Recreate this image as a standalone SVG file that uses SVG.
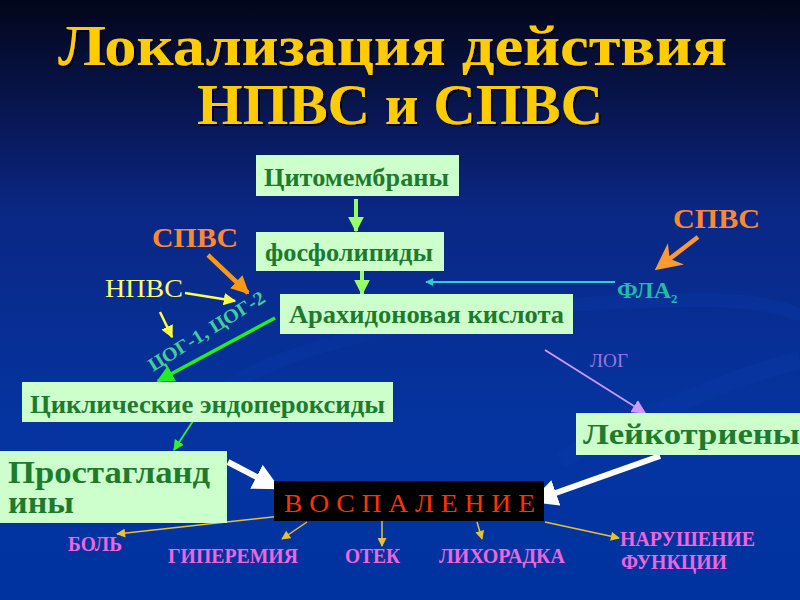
<svg xmlns="http://www.w3.org/2000/svg" width="800" height="600" viewBox="0 0 800 600">
<defs>
<linearGradient id="bg" x1="0" y1="0" x2="0" y2="1">
<stop offset="0" stop-color="#02061a"/>
<stop offset="0.18" stop-color="#081650"/>
<stop offset="0.35" stop-color="#0a2784"/>
<stop offset="0.7" stop-color="#0534a0"/>
<stop offset="1" stop-color="#0033a0"/>
</linearGradient>
<filter id="sh" x="-5%" y="-5%" width="110%" height="120%">
<feDropShadow dx="2" dy="2" stdDeviation="0.6" flood-color="#000" flood-opacity="0.9"/>
</filter>
<marker id="mLg" viewBox="0 0 10 10" refX="9" refY="5" markerWidth="4" markerHeight="4" orient="auto" markerUnits="strokeWidth"><path d="M0,0L10,5L0,10z" fill="#99ff66"/></marker>
<marker id="mG" viewBox="0 0 10 10" refX="9" refY="5" markerWidth="5" markerHeight="5" orient="auto" markerUnits="strokeWidth"><path d="M0,0L10,5L0,10z" fill="#22ee22"/></marker>
<marker id="mG2" viewBox="0 0 10 10" refX="9" refY="5" markerWidth="6" markerHeight="6" orient="auto" markerUnits="strokeWidth"><path d="M0,0L10,5L0,10z" fill="#33ee33"/></marker>
<marker id="mC" viewBox="0 0 10 10" refX="9" refY="5" markerWidth="5" markerHeight="4" orient="auto" markerUnits="strokeWidth"><path d="M0,0L10,5L0,10z" fill="#33cccc"/></marker>
<marker id="mO" viewBox="0 0 10 10" refX="9" refY="5" markerWidth="4" markerHeight="4" orient="auto" markerUnits="strokeWidth"><path d="M0,0L10,5L0,10z" fill="#ff9911"/></marker>
<marker id="mO2" viewBox="0 0 10 10" refX="8" refY="5" markerWidth="6" markerHeight="6" orient="auto" markerUnits="strokeWidth"><path d="M0,0L10,5L0,10L3,5z" fill="#ff9933"/></marker>
<marker id="mY" viewBox="0 0 10 10" refX="9" refY="5" markerWidth="5" markerHeight="5" orient="auto" markerUnits="strokeWidth"><path d="M0,0L10,5L0,10z" fill="#ffff44"/></marker>
<marker id="mV" viewBox="0 0 10 10" refX="9" refY="5" markerWidth="8" markerHeight="8" orient="auto" markerUnits="strokeWidth"><path d="M0,0L10,5L0,10z" fill="#cc99ff"/></marker>
<marker id="mGd" viewBox="0 0 10 10" refX="9" refY="5" markerWidth="7" markerHeight="6" orient="auto" markerUnits="strokeWidth"><path d="M0,0L10,5L0,10z" fill="#e8c030"/></marker>
<marker id="mW" viewBox="0 0 10 10" refX="9" refY="5" markerWidth="4.5" markerHeight="4.5" orient="auto" markerUnits="strokeWidth"><path d="M0,0L10,5L0,10z" fill="#ffffff"/></marker>
</defs>
<style>
text{font-family:"Liberation Serif","Times New Roman",serif;font-weight:bold}
.box{fill:#ccffcc}
.bt{fill:#1e7b2e;font-size:26px}
.title{fill:#ffcc00;font-size:57px;font-weight:bold}
.org{fill:#ff8833;font-size:28px}
.mag{fill:#ee66dd;font-size:20px}
.ln{fill:none}
</style>
<rect width="800" height="600" fill="url(#bg)"/>
<path d="M190,420 C260,330 520,300 700,300 C760,300 800,310 800,320" fill="none" stroke="#0a3aa8" stroke-width="14" opacity="0.35"/>
<path d="M560,460 C640,420 720,380 800,360" fill="none" stroke="#0a3aa8" stroke-width="18" opacity="0.3"/>

<g id="title" filter="url(#sh)">
<text class="title" x="58" y="65" textLength="669" lengthAdjust="spacingAndGlyphs">Локализация действия</text>
<text class="title" x="197" y="124" textLength="406" lengthAdjust="spacingAndGlyphs">НПВС и СПВС</text>
</g>

<g id="connectors">
<line class="ln" x1="356" y1="199" x2="356" y2="231" stroke="#99ff66" stroke-width="4" marker-end="url(#mLg)"/>
<line class="ln" x1="362" y1="262" x2="362" y2="294" stroke="#99ff66" stroke-width="4" marker-end="url(#mLg)"/>
<line class="ln" x1="615" y1="282" x2="426" y2="282" stroke="#33cccc" stroke-width="2" marker-end="url(#mC)"/>
<line class="ln" x1="275" y1="318" x2="158" y2="381" stroke="#22ee22" stroke-width="3.5" marker-end="url(#mG)"/>
<line class="ln" x1="193" y1="421" x2="174" y2="450" stroke="#33ee33" stroke-width="1.8" marker-end="url(#mG2)"/>
<line class="ln" x1="208" y1="255" x2="248" y2="293" stroke="#ff9911" stroke-width="4.5" marker-end="url(#mO)"/>
<line class="ln" x1="698" y1="237" x2="659" y2="267" stroke="#ff9933" stroke-width="4.5" marker-end="url(#mO2)"/>
<line class="ln" x1="185" y1="293" x2="235" y2="301" stroke="#ffff44" stroke-width="2.5" marker-end="url(#mY)"/>
<line class="ln" x1="160" y1="312" x2="172" y2="337" stroke="#ffff44" stroke-width="2.5" marker-end="url(#mY)"/>
<line class="ln" x1="545" y1="350" x2="645" y2="413" stroke="#cc99ff" stroke-width="1.8" marker-end="url(#mV)"/>
<line class="ln" x1="228" y1="462" x2="278" y2="488" stroke="#ffffff" stroke-width="6" marker-end="url(#mW)"/>
<line class="ln" x1="660" y1="456" x2="533" y2="501" stroke="#ffffff" stroke-width="6" marker-end="url(#mW)"/>
<line class="ln" x1="300" y1="514" x2="117" y2="534" stroke="#e8c030" stroke-width="1.5" marker-end="url(#mGd)"/>
<line class="ln" x1="307" y1="522" x2="282" y2="539" stroke="#e8c030" stroke-width="1.5" marker-end="url(#mGd)"/>
<line class="ln" x1="382" y1="521" x2="382" y2="546" stroke="#e8c030" stroke-width="1.5" marker-end="url(#mGd)"/>
<line class="ln" x1="477" y1="522" x2="482" y2="539" stroke="#e8c030" stroke-width="1.5" marker-end="url(#mGd)"/>
<line class="ln" x1="545" y1="522" x2="619" y2="538" stroke="#e8c030" stroke-width="1.5" marker-end="url(#mGd)"/>
</g>

<g id="citomembrany">
<rect class="box" x="256" y="155" width="203" height="41"/>
<text class="bt" x="264" y="186" textLength="185" lengthAdjust="spacingAndGlyphs">Цитомембраны</text>
</g>
<g id="fosfolipidy">
<rect class="box" x="256" y="232" width="188" height="39"/>
<text class="bt" x="265" y="261" textLength="168" lengthAdjust="spacingAndGlyphs">фосфолипиды</text>
</g>
<g id="arahidonovaya">
<rect class="box" x="280" y="294" width="293" height="40"/>
<text class="bt" x="289" y="323" textLength="275" lengthAdjust="spacingAndGlyphs">Арахидоновая кислота</text>
</g>
<g id="endoperoksidy">
<rect class="box" x="22" y="382" width="371" height="40"/>
<text class="bt" x="30" y="413" textLength="355" lengthAdjust="spacingAndGlyphs">Циклические эндопероксиды</text>
</g>
<g id="prostaglandiny">
<rect class="box" x="0" y="451" width="227" height="72"/>
<text class="bt" style="font-size:31px" x="8" y="483" textLength="202" lengthAdjust="spacingAndGlyphs">Простагланд</text>
<text class="bt" style="font-size:31px" x="8" y="513" textLength="66" lengthAdjust="spacingAndGlyphs">ины</text>
</g>
<g id="leikotrieny">
<rect class="box" x="576" y="413" width="224" height="42"/>
<text class="bt" style="font-size:29px" x="583" y="444" textLength="217" lengthAdjust="spacingAndGlyphs">Лейкотриены</text>
</g>
<g id="vospalenie">
<rect x="274" y="481" width="270" height="40" fill="#000"/>
<text x="284" y="512" fill="#ff3300" style="font-size:25px;font-weight:normal" textLength="251" lengthAdjust="spacingAndGlyphs">В О С П А Л Е Н И Е</text>
</g>

<g id="spvs-left"><text class="org" x="152" y="247" textLength="86" lengthAdjust="spacingAndGlyphs">СПВС</text></g>
<g id="spvs-right"><text class="org" x="673" y="228" textLength="87" lengthAdjust="spacingAndGlyphs">СПВС</text></g>
<g id="npvs"><text x="105" y="297" fill="#ffff66" style="font-size:26px;font-weight:normal" textLength="78" lengthAdjust="spacingAndGlyphs">НПВС</text></g>
<g id="cog"><text transform="translate(153,372) rotate(-32)" fill="#44cc99" style="font-size:19px" textLength="134" lengthAdjust="spacingAndGlyphs">ЦОГ-1, ЦОГ-2</text></g>
<g id="fla2"><text x="617" y="298" fill="#22bbaa" style="font-size:24px">ФЛА<tspan style="font-size:13px" dy="5">2</tspan></text></g>
<g id="log"><text x="590" y="367" fill="#9977dd" style="font-size:18px;font-weight:normal" textLength="38" lengthAdjust="spacingAndGlyphs">ЛОГ</text></g>

<g id="bol"><text class="mag" x="68" y="551" textLength="54" lengthAdjust="spacingAndGlyphs">БОЛЬ</text></g>
<g id="giperemiya"><text class="mag" x="168" y="563" textLength="130" lengthAdjust="spacingAndGlyphs">ГИПЕРЕМИЯ</text></g>
<g id="otek"><text class="mag" x="345" y="563" textLength="55" lengthAdjust="spacingAndGlyphs">ОТЕК</text></g>
<g id="lihoradka"><text class="mag" x="439" y="563" textLength="126" lengthAdjust="spacingAndGlyphs">ЛИХОРАДКА</text></g>
<g id="narushenie">
<text class="mag" x="620" y="546" textLength="135" lengthAdjust="spacingAndGlyphs">НАРУШЕНИЕ</text>
<text class="mag" x="621" y="569" textLength="106" lengthAdjust="spacingAndGlyphs">ФУНКЦИИ</text>
</g>
</svg>
